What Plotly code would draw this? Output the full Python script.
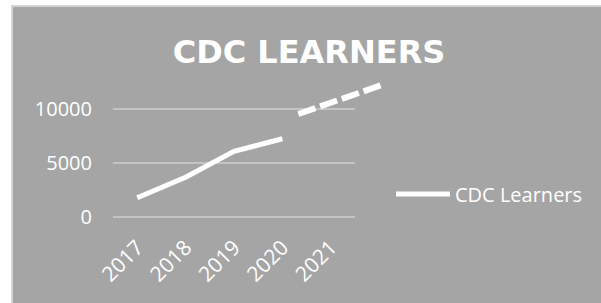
import plotly.graph_objects as go

years = [2017, 2018, 2019, 2020]
learners = [1800, 3700, 6100, 7250]
proj_years = [2020.33, 2022.05]
proj_values = [9540, 12210]
tick_years = [2017, 2018, 2019, 2020, 2021]
tick_labels = ["2017", "2018", "2019", "2020", "2021"]
y_ticks = [0, 5000, 10000]
y_tick_labels = ["0", "5000", "10000"]
series_name = "CDC Learners"
title_text = "CDC LEARNERS"

W, H = 601, 303
L, R, T, B = 113, 201, 75, 78
pw = W - L - R
ph = H - T - B
main_right = 355
fig = go.Figure()
fig.add_trace(go.Scatter(x=years, y=learners, mode="lines", name=series_name,
                         line=dict(color="white", width=5), xaxis="x", yaxis="y"))
fig.add_trace(go.Scatter(x=proj_years, y=proj_values, mode="lines", showlegend=False,
                         line=dict(color="white", width=6, dash="18px,5px"),
                         xaxis="x2", yaxis="y2"))

px_per_year = (main_right - L) / 5.0
yr = [-711, 13140]
fig.update_layout(
    width=W, height=H,
    margin=dict(l=L, r=R, t=T, b=B, pad=0, autoexpand=False),
    paper_bgcolor="#A5A5A5", plot_bgcolor="rgba(0,0,0,0)",
    font=dict(family="Open Sans", color="white", size=20),
    title=dict(text=title_text, x=309 / W, xref="container", xanchor="center",
               y=1 - 52 / H, yref="container", yanchor="middle",
               font=dict(family="DejaVu Sans", size=32, weight="bold", color="white")),
    xaxis=dict(domain=[0, (main_right - L) / pw], range=[2016.5, 2021.5],
               tickvals=tick_years, ticktext=tick_labels, tickangle=-45,
               showgrid=False, zeroline=False, showline=False, ticks="",
               ticklabelstandoff=5, tickfont=dict(size=21, color="white"),
               anchor="y", automargin=False),
    yaxis=dict(domain=[0, 1], range=yr, tickvals=y_ticks, ticktext=y_tick_labels,
               showgrid=True, gridcolor="#C3C3C3", gridwidth=2, zeroline=False,
               showline=False, ticks="", ticklabelstandoff=20,
               tickfont=dict(size=20, color="white"), anchor="x", automargin=False),
    xaxis2=dict(domain=[0, 1], range=[2016.5, 2016.5 + pw / px_per_year],
                visible=False, anchor="y2", automargin=False),
    yaxis2=dict(domain=[0, 1], range=yr, visible=False, anchor="x2", automargin=False),
    legend=dict(x=391 / W, xref="container", xanchor="left", y=1 - 194 / H,
                yref="container", yanchor="middle", bgcolor="rgba(0,0,0,0)",
                font=dict(family="Open Sans", size=20, color="white"),
                itemwidth=54),
    showlegend=True,
    shapes=[
        dict(type="rect", xref="paper", yref="paper", x0=(0 - L) / pw, x1=(11 - L) / pw,
             y0=-1, y1=3, fillcolor="white", line_width=0, layer="above"),
        dict(type="rect", xref="paper", yref="paper", x0=-1, x1=3,
             y0=1 + (T - 5) / ph, y1=3, fillcolor="white", line_width=0, layer="above"),
        dict(type="rect", xref="paper", yref="paper", x0=(11 - L) / pw, x1=(13 - L) / pw,
             y0=-1, y1=1 + (T - 5) / ph, fillcolor="#D4D4D4", line_width=0, layer="above"),
        dict(type="rect", xref="paper", yref="paper", x0=(11 - L) / pw, x1=3,
             y0=1 + (T - 7) / ph, y1=1 + (T - 5) / ph,
             fillcolor="#D4D4D4", line_width=0, layer="above"),
    ],
)
fig.write_html("out.html", config={"displayModeBar": False},
               post_script="document.body.style.margin='0';document.body.style.overflow='hidden';")
